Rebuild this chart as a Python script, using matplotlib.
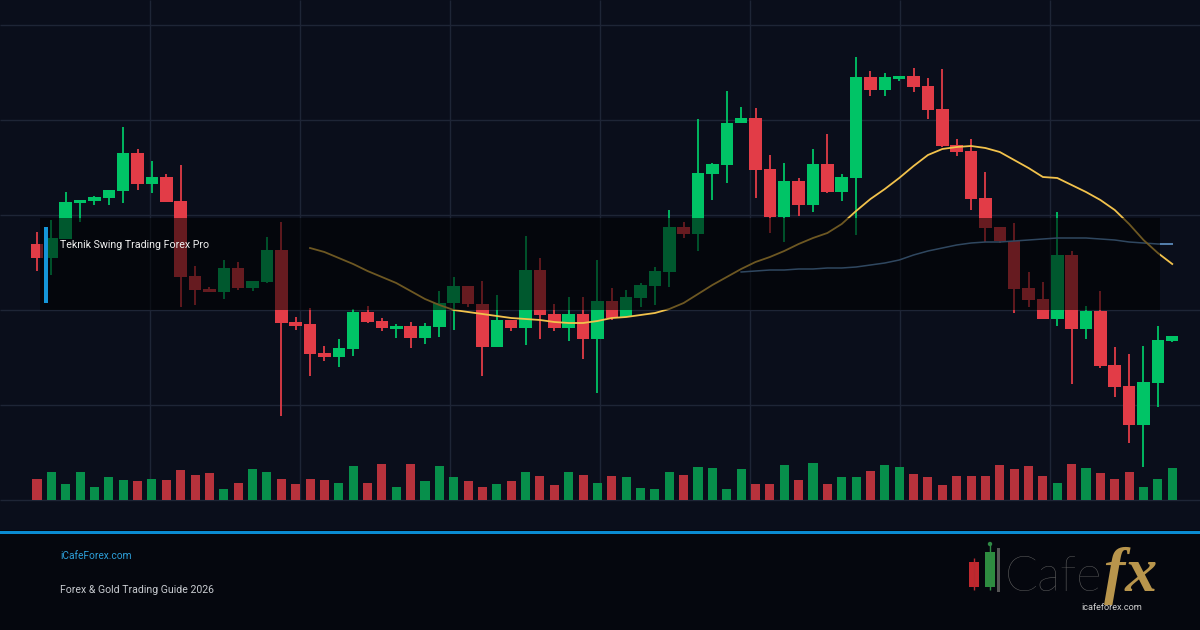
import matplotlib
matplotlib.use("Agg")
import matplotlib.pyplot as plt
from matplotlib.patches import Rectangle, Circle
import numpy as np

plt.rcParams['font.family'] = ['Roboto', 'DejaVu Sans']

# candle data (price units)
opens = [2306.6, 2305.2, 2307.1, 2310.7, 2310.9, 2311.2, 2311.9, 2315.7, 2312.6, 2313.3,
         2310.9, 2303.4, 2302.1, 2301.8, 2304.2, 2302.2, 2302.8, 2306.0, 2298.8, 2298.6,
         2295.7, 2295.3, 2296.1, 2299.8, 2298.9, 2298.1, 2298.4, 2297.2, 2298.3, 2300.7,
         2302.4, 2300.6, 2296.3, 2299.0, 2298.2, 2304.0, 2299.6, 2298.2, 2299.6, 2297.1,
         2300.9, 2299.3, 2301.2, 2302.4, 2303.8, 2308.3, 2307.6, 2313.6, 2314.5, 2318.7,
         2319.2, 2314.1, 2309.3, 2312.9, 2310.5, 2314.6, 2311.8, 2313.2, 2323.3, 2322.0,
         2323.1, 2323.4, 2322.4, 2320.1, 2316.5, 2315.9, 2311.2, 2308.3, 2306.9, 2302.2,
         2301.1, 2299.1, 2305.5, 2298.1, 2299.9, 2294.5, 2292.4, 2288.5, 2292.7, 2296.9]
highs = [2307.8, 2309.0, 2311.8, 2311.0, 2311.4, 2312.0, 2318.3, 2316.1, 2314.9, 2313.6,
         2314.5, 2304.4, 2302.3, 2305.0, 2304.8, 2302.9, 2307.3, 2308.8, 2299.3, 2300.2,
         2296.4, 2297.1, 2300.1, 2300.4, 2299.2, 2298.6, 2298.8, 2298.7, 2301.9, 2303.3,
         2302.4, 2302.9, 2301.5, 2299.0, 2307.4, 2305.2, 2300.6, 2301.3, 2301.3, 2305.0,
         2302.2, 2302.0, 2302.7, 2304.3, 2310.0, 2308.8, 2319.1, 2314.7, 2321.9, 2320.3,
         2320.2, 2315.5, 2314.7, 2313.2, 2316.1, 2317.6, 2313.6, 2325.3, 2323.9, 2323.7,
         2323.4, 2324.2, 2323.2, 2324.1, 2317.1, 2317.1, 2313.8, 2308.3, 2308.7, 2303.8,
         2302.8, 2309.8, 2305.9, 2300.4, 2301.9, 2296.3, 2295.6, 2296.4, 2298.4, 2297.4]
lows = [2303.9, 2303.5, 2307.1, 2308.8, 2310.5, 2310.5, 2310.7, 2312.0, 2311.7, 2310.8,
        2300.3, 2300.5, 2301.8, 2301.1, 2302.0, 2301.9, 2302.7, 2289.4, 2298.0, 2293.4,
        2294.9, 2294.3, 2295.4, 2298.7, 2297.9, 2297.2, 2296.2, 2296.6, 2297.3, 2298.0,
        2300.3, 2293.4, 2296.3, 2297.9, 2296.5, 2297.1, 2297.9, 2296.9, 2295.1, 2291.7,
        2299.0, 2299.3, 2300.3, 2300.5, 2302.3, 2307.2, 2305.9, 2311.0, 2312.7, 2318.7,
        2311.2, 2307.7, 2306.8, 2309.4, 2309.8, 2311.7, 2310.9, 2307.5, 2321.4, 2321.4,
        2322.9, 2321.8, 2319.1, 2316.3, 2315.4, 2310.0, 2306.8, 2306.7, 2299.7, 2300.3,
        2299.1, 2298.4, 2292.6, 2297.1, 2294.2, 2291.3, 2286.7, 2284.3, 2290.3, 2296.8]
closes = [2305.2, 2307.2, 2310.8, 2311.0, 2311.3, 2312.0, 2315.7, 2312.6, 2313.3, 2310.8,
          2303.3, 2302.0, 2301.8, 2304.2, 2302.2, 2302.9, 2306.0, 2298.7, 2298.4, 2295.6,
          2295.3, 2296.2, 2299.8, 2298.8, 2298.2, 2298.4, 2297.2, 2298.4, 2300.7, 2302.4,
          2300.6, 2296.3, 2299.0, 2298.2, 2304.0, 2299.5, 2298.2, 2299.6, 2297.1, 2300.9,
          2299.2, 2301.3, 2302.5, 2303.9, 2308.3, 2307.6, 2313.7, 2314.6, 2318.7, 2319.2,
          2314.0, 2309.3, 2312.9, 2310.5, 2314.6, 2311.8, 2313.3, 2323.3, 2322.0, 2323.3,
          2323.4, 2322.3, 2320.0, 2316.4, 2315.8, 2311.1, 2308.2, 2306.9, 2302.1, 2301.0,
          2299.1, 2305.5, 2298.1, 2299.9, 2294.4, 2292.3, 2288.5, 2292.8, 2297.0, 2297.4]
volumes = [54, 74, 41, 74, 35, 59, 53, 50, 56, 53, 78, 65, 71, 29, 44, 80, 74, 56, 41, 56,
           53, 44, 89, 44, 95, 35, 95, 50, 89, 59, 50, 35, 41, 50, 74, 62, 38, 74, 65, 44,
           62, 59, 32, 29, 74, 65, 86, 83, 29, 80, 41, 41, 92, 53, 98, 41, 59, 59, 77, 92,
           86, 68, 59, 38, 62, 62, 62, 92, 80, 89, 62, 44, 95, 83, 71, 56, 74, 35, 56, 83]

# moving averages (first candle index where each line starts)
ma_fast_start = 19
ma_fast = [2306.2, 2305.8, 2305.2, 2304.6, 2303.9, 2303.3, 2302.7, 2301.9, 2301.1, 2300.5,
           2300.0, 2299.8, 2299.6, 2299.4, 2299.2, 2299.1, 2299.0, 2298.8, 2298.7, 2298.7,
           2298.9, 2299.2, 2299.3, 2299.5, 2299.7, 2300.1, 2300.7, 2301.6, 2302.5, 2303.3,
           2304.1, 2304.8, 2305.3, 2305.9, 2306.6, 2307.2, 2307.7, 2308.6, 2309.9, 2311.1,
           2312.1, 2313.2, 2314.4, 2315.5, 2316.1, 2316.3, 2316.4, 2316.2, 2315.8, 2315.0,
           2314.2, 2313.3, 2313.2, 2312.5, 2311.8, 2311.0, 2310.0, 2308.6, 2307.0, 2305.7,
           2304.6]
ma_slow_start = 49
ma_slow = [2303.8, 2303.9, 2304.0, 2304.0, 2304.1, 2304.1, 2304.2, 2304.2, 2304.3, 2304.5,
           2304.7, 2305.0, 2305.5, 2305.9, 2306.2, 2306.5, 2306.7, 2306.8, 2306.8, 2306.9,
           2307.0, 2307.1, 2307.2, 2307.2, 2307.2, 2307.1, 2307.0, 2306.8, 2306.7, 2306.6,
           2306.6]

title = "Teknik Swing Trading Forex Pro"
site = "iCafeForex.com"
subtitle = "Forex & Gold Trading Guide 2026"

# layout (pixels)
W, H = 1200, 630
X0, DX = 37, 14.37        # first candle centre, candle spacing
CHART_BOTTOM = 530
PRICE_TOP = 2331.0        # price at y = 0
PX_PER_UNIT = 10.0
VOL_PX = 2.616            # volume units per pixel

up_col, dn_col = '#00c466', '#e23c47'
vup_col, vdn_col = '#078f4b', '#b7323c'

fig = plt.figure(figsize=(12, 6.3), dpi=100)
fig.patch.set_facecolor('#060810')

# background + grid in pixel space
bg = fig.add_axes([0, 0, 1, 1])
bg.set_xlim(0, W)
bg.set_ylim(H, 0)
bg.axis('off')
bg.add_patch(Rectangle((0, 0), W, CHART_BOTTOM, color='#0a0e1b', lw=0))
bg.add_patch(Rectangle((0, CHART_BOTTOM), W, H - CHART_BOTTOM, color='#05070e', lw=0))
for gy in range(25, 501, 95):
    bg.hlines(gy, 0, W, color='#1e2536', lw=1)
for gx in range(150, 1051, 150):
    bg.vlines(gx, 0, 500, color='#1e2536', lw=1)

xlim = (-X0 / DX, (W - X0) / DX)
idx = np.arange(len(opens))
o = np.array(opens)
c = np.array(closes)
up = c >= o

# price axes
ax = fig.add_axes([0, (H - CHART_BOTTOM) / H, 1, CHART_BOTTOM / H])
ax.set_xlim(*xlim)
ax.set_ylim(PRICE_TOP - CHART_BOTTOM / PX_PER_UNIT, PRICE_TOP)
ax.axis('off')
ax.patch.set_alpha(0)

cols = np.where(up, up_col, dn_col)
ax.vlines(idx, lows, highs, colors=cols, lw=1.3, zorder=2)
body_lo = np.minimum(o, c)
body_h = np.maximum(np.abs(c - o), 0.25)
ax.bar(idx, body_h, bottom=body_lo, width=0.87, color=cols, lw=0, zorder=3)

ax.plot(np.arange(ma_slow_start, ma_slow_start + len(ma_slow)), ma_slow,
        color='#6a9fd6', lw=1.1, zorder=4)
ax.plot(np.arange(ma_fast_start, ma_fast_start + len(ma_fast)), ma_fast,
        color='#f2c24c', lw=1.3, zorder=4)

# volume axes, baseline at y = 500
vax = fig.add_axes([0, (H - 500) / H, 1, 100 / H])
vax.set_xlim(*xlim)
vax.set_ylim(0, 100 * VOL_PX)
vax.axis('off')
vax.patch.set_alpha(0)
vax.bar(idx, volumes, width=0.63, color=np.where(up, vup_col, vdn_col), lw=0)

# overlay, labels, footer
top = fig.add_axes([0, 0, 1, 1], zorder=5)
top.set_xlim(0, W)
top.set_ylim(H, 0)
top.axis('off')
top.patch.set_alpha(0)
top.add_patch(Rectangle((40, 218), 1120, 92, color='black', alpha=0.55, lw=0))
top.add_patch(Rectangle((44, 227), 4, 76, color='#1596d8', lw=0))
top.text(60, 245, title, color='#f0f0f0', fontsize=7.7, va='center', ha='left')

top.add_patch(Rectangle((0, 530.5), W, 3, color='#0a8bd1', lw=0))
top.text(60, 556, site, color='#2d9fd9', fontsize=7.3, va='center', ha='left')
top.text(60, 590, subtitle, color='#c8cbd0', fontsize=7.6, va='center', ha='left')

# logo
top.vlines(974, 558, 590, color='#b42a30', lw=1)
top.add_patch(Rectangle((969, 562), 10, 25, color='#c0282e', lw=0))
top.vlines(990, 544, 590, color='#2f8a45', lw=1)
top.add_patch(Circle((990, 544), 2.2, color='#2f8a45', lw=0))
top.add_patch(Rectangle((985, 552), 10, 35, color='#2e8c40', lw=0))
top.add_patch(Rectangle((997, 548), 2.5, 44, color='#555555', lw=0))
top.text(1005, 591, "Cafe", color='#626262', fontsize=35, fontweight='light',
         family=['Lato', 'DejaVu Sans'], va='baseline', ha='left')
top.text(1104, 591, "fx", color='#b8954c', fontsize=46, fontweight='bold',
         style='italic', family=['Liberation Serif', 'DejaVu Serif'],
         va='baseline', ha='left')
top.text(1112, 608, "icafeforex.com", color='#d0d0d0', fontsize=6.6,
         va='center', ha='center')

fig.savefig('out.png', dpi=100, facecolor=fig.get_facecolor())
